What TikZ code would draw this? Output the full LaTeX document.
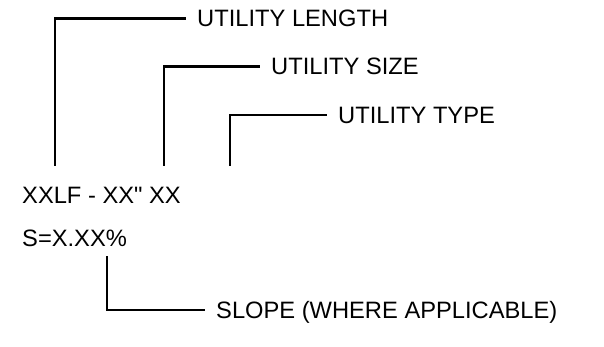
\documentclass[tikz,border=0pt]{standalone}
\usepackage{fontspec}
\newfontfamily\lsans{Liberation Sans}
\begin{document}
\begin{tikzpicture}[x=1pt,y=-1pt,
  lead/.style={line width=2.2pt},
  lbl/.style={anchor=west,inner xsep=11pt,inner ysep=0pt,text height=16.4pt,text depth=0pt,font=\lsans\fontsize{23.7}{28}\selectfont},
  code/.style={anchor=base west,inner sep=0pt,font=\lsans\fontsize{23.7}{28}\selectfont}]
\useasboundingbox (0,0) rectangle (604,347);
\node[code] (tag) at (22,204) {XXLF - XX\symbol{34} XX};
\node[code] (slp) at (22,246) {S=X.XX\%};
\coordinate (b1) at (55,166);
\coordinate (b2) at (164,166);
\coordinate (b3) at (230,166);
\coordinate (b4) at (107,256);
\node[lbl] (len) at (186,18.5) {UTILITY LENGTH};
\node[lbl] (siz) at (260,66.5) {UTILITY SIZE};
\node[lbl] (typ) at (327,115) {UTILITY TYPE};
\node[lbl] (slo) at (205,310) {SLOPE (WHERE APPLICABLE)};
\draw[lead] (b1) |- (len.west);
\draw[lead] (b2) |- (siz.west);
\draw[lead] (b3) |- (typ.west);
\draw[lead] (b4) |- (slo.west);
\end{tikzpicture}
\end{document}
